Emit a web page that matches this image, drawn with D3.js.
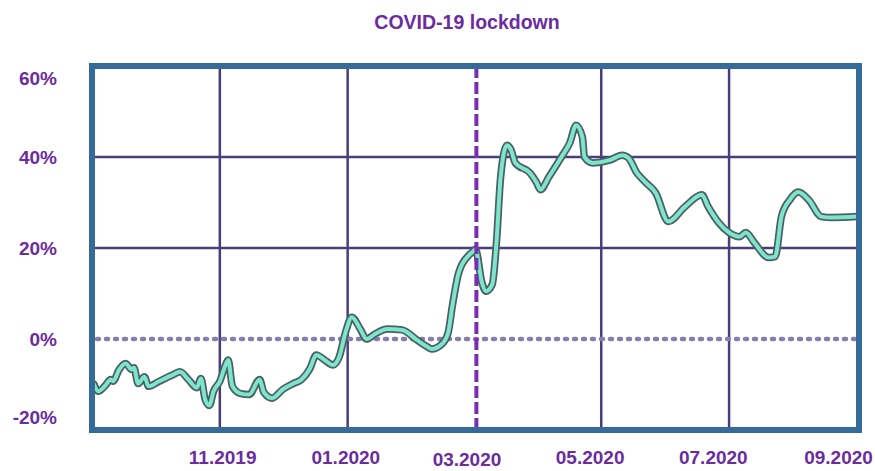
<!DOCTYPE html>
<html>
<head>
<meta charset="utf-8">
<script src="https://cdn.jsdelivr.net/npm/d3@7"></script>
<style>
  html, body { margin: 0; padding: 0; background: #ffffff; }
  svg { display: block; }
  text { font-family: "Liberation Sans", Arial, Helvetica, sans-serif; }
</style>
</head>
<body>
<svg id="chart" width="875" height="471"></svg>
<script>
// ---------- DATA ----------
const title = "COVID-19 lockdown";
const lockdownDate = "2020-03-01";

const dates = [
  "2019-09-02","2019-09-04","2019-09-07","2019-09-10","2019-09-11","2019-09-14","2019-09-17",
  "2019-09-20","2019-09-21","2019-09-23","2019-09-26","2019-09-28","2019-10-03","2019-10-09",
  "2019-10-13","2019-10-17","2019-10-21","2019-10-23","2019-10-25","2019-10-27","2019-10-29",
  "2019-11-01","2019-11-04","2019-11-05","2019-11-07","2019-11-11","2019-11-15","2019-11-20",
  "2019-11-22","2019-11-26","2019-12-01","2019-12-06","2019-12-10","2019-12-14","2019-12-17",
  "2019-12-21","2019-12-25","2019-12-28","2019-12-31","2020-01-03","2020-01-07","2020-01-10",
  "2020-01-14","2020-01-20","2020-01-27","2020-02-03","2020-02-08","2020-02-10","2020-02-15",
  "2020-02-18","2020-02-20","2020-02-23","2020-02-28","2020-03-01","2020-03-02","2020-03-05",
  "2020-03-07","2020-03-10","2020-03-12","2020-03-14","2020-03-17","2020-03-19","2020-03-21",
  "2020-03-28","2020-03-31","2020-04-02","2020-04-06","2020-04-12","2020-04-16","2020-04-19",
  "2020-04-22","2020-04-23","2020-04-27","2020-05-05","2020-05-11","2020-05-14","2020-05-18",
  "2020-05-22","2020-05-27","2020-06-02","2020-06-10","2020-06-18","2020-06-21","2020-06-26",
  "2020-07-01","2020-07-06","2020-07-09","2020-07-13","2020-07-20","2020-07-23","2020-07-26",
  "2020-07-30","2020-08-03","2020-08-08","2020-08-14","2020-08-19","2020-08-31"
];

const values = [
  -10.0,-11.5,-10.4,-8.9,-9.3,-6.7,-5.4,
  -6.7,-6.3,-9.8,-8.3,-10.4,-9.3,-8.0,
  -7.2,-8.9,-10.7,-8.7,-13.3,-14.6,-11.5,
  -9.3,-5.4,-4.6,-10.4,-12.0,-12.2,-8.9,
  -11.7,-13.0,-11.1,-9.8,-8.9,-6.5,-3.5,
  -4.6,-5.7,-3.9,1.5,4.8,2.2,0.0,
  1.1,2.2,2.0,-0.2,-1.7,-2.2,-1.1,
  1.5,7.4,14.6,18.5,19.3,19.7,12.5,
  10.5,12.0,21.2,35.6,42.6,41.5,38.7,
  36.5,34.5,32.8,35.6,40.0,43.1,47.0,
  44.4,40.0,38.7,39.3,40.4,39.8,36.5,
  34.5,32.1,25.8,29.1,31.7,29.1,25.6,
  23.4,22.5,23.4,21.2,17.9,18.1,26.9,
  30.6,32.3,30.6,26.9,26.7,26.9
];

const yTickValues = [60, 40, 20, 0, -20];
const yTickLabels = ["60%", "40%", "20%", "0%", "-20%"];
const xTickDates = ["2019-11-01","2020-01-01","2020-03-01","2020-05-01","2020-07-01","2020-09-01"];
const xTickLabels = ["11.2019","01.2020","03.2020","05.2020","07.2020","09.2020"];
const gridValues = [40, 20];

// ---------- SETUP ----------
const parse = d3.utcParse("%Y-%m-%d");
const data = dates.map((d, i) => ({ date: parse(d), value: values[i] }));

const svg = d3.select("#chart");
const W = 875, H = 471;
const mLeft = 92, mRight = 859, mTop = 66, mBottom = 430;

const x = d3.scaleUtc()
  .domain([parse("2019-09-01"), parse("2020-09-01")])
  .range([mLeft, mRight]);
const y = d3.scaleLinear().domain([-20, 60]).range([mBottom, mTop]);

// label scale (labels sit slightly compressed relative to grid in the original)
const xLabel = d3.scaleUtc()
  .domain([parse("2019-09-01"), parse("2020-09-01")])
  .range([99, 838]);

const purple = "#6b2c9f";
const gridColor = "#4a3d7e";
const frameColor = "#356b99";

svg.append("rect").attr("width", W).attr("height", H).attr("fill", "#ffffff");
svg.append("rect").attr("x", mLeft).attr("y", mTop)
  .attr("width", mRight - mLeft).attr("height", mBottom - mTop).attr("fill", "#ffffff");

// Title
svg.append("text")
  .attr("x", 467).attr("y", 29)
  .attr("text-anchor", "middle")
  .attr("font-size", "19.5px").attr("font-weight", "bold")
  .attr("fill", purple)
  .text(title);

// Horizontal grid
svg.append("g").selectAll("line").data(gridValues).join("line")
  .attr("x1", mLeft).attr("x2", mRight)
  .attr("y1", d => y(d)).attr("y2", d => y(d))
  .attr("stroke", gridColor).attr("stroke-width", 2.5);

// Vertical grid (except lockdown & the right edge)
const vGrid = xTickDates.filter(d => d !== lockdownDate && d !== "2020-09-01").map(parse);
svg.append("g").selectAll("line").data(vGrid).join("line")
  .attr("x1", d => x(d)).attr("x2", d => x(d))
  .attr("y1", mTop).attr("y2", mBottom)
  .attr("stroke", gridColor).attr("stroke-width", 2.5);

// Zero dotted line
svg.append("line")
  .attr("x1", mLeft + 5).attr("x2", mRight - 4)
  .attr("y1", y(0)).attr("y2", y(0))
  .attr("stroke", "#877eab").attr("stroke-width", 4.5)
  .attr("stroke-linecap", "round")
  .attr("stroke-dasharray", "2,7");

// Data line (clipped)
svg.append("clipPath").attr("id", "clip")
  .append("rect").attr("x", mLeft).attr("y", mTop)
  .attr("width", mRight - mLeft).attr("height", mBottom - mTop);

const line = d3.line()
  .x(d => x(d.date)).y(d => y(d.value))
  .curve(d3.curveMonotoneX);

const lg = svg.append("g").attr("clip-path", "url(#clip)");
lg.append("path").datum(data).attr("d", line)
  .attr("fill", "none").attr("stroke", "#4b5f6a").attr("stroke-width", 7.5)
  .attr("stroke-linejoin", "round").attr("stroke-linecap", "round");
lg.append("path").datum(data).attr("d", line)
  .attr("fill", "none").attr("stroke", "#7de6c8").attr("stroke-width", 4)
  .attr("stroke-linejoin", "round").attr("stroke-linecap", "round");

// Lockdown dashed line
const ld = x(parse(lockdownDate)) + 3;
svg.append("line")
  .attr("x1", ld).attr("x2", ld).attr("y1", mTop).attr("y2", mBottom)
  .attr("stroke", "#7a2cb2").attr("stroke-width", 4)
  .attr("stroke-dasharray", "12,4");

// Frame
svg.append("rect").attr("x", mLeft).attr("y", mTop)
  .attr("width", mRight - mLeft).attr("height", mBottom - mTop)
  .attr("fill", "none").attr("stroke", frameColor).attr("stroke-width", 6);

// Y axis labels
const yAxis = d3.axisLeft(y)
  .tickValues(yTickValues)
  .tickFormat((d, i) => yTickLabels[i])
  .tickSize(0).tickPadding(0);
const yg = svg.append("g").attr("transform", "translate(57,0)").call(yAxis);
yg.select(".domain").remove();
yg.selectAll("text")
  .attr("font-family", "\"Liberation Sans\", Arial, sans-serif")
  .attr("font-size", "19px").attr("font-weight", "bold")
  .attr("fill", purple)
  .attr("dy", d => d === 60 ? "0.95em" : d === -20 ? "-0.35em" : "0.35em");

// X axis labels
const xAxis = d3.axisBottom(xLabel)
  .tickValues(xTickDates.map(parse))
  .tickFormat((d, i) => xTickLabels[i])
  .tickSize(0).tickPadding(0);
const xg = svg.append("g").attr("transform", "translate(0,450)").call(xAxis);
xg.select(".domain").remove();
xg.selectAll("text")
  .attr("font-family", "\"Liberation Sans\", Arial, sans-serif")
  .attr("font-size", "19px").attr("font-weight", "bold")
  .attr("fill", purple)
  .attr("dy", (d, i) => i === 2 ? "0.85em" : "0.75em");
</script>
</body>
</html>
